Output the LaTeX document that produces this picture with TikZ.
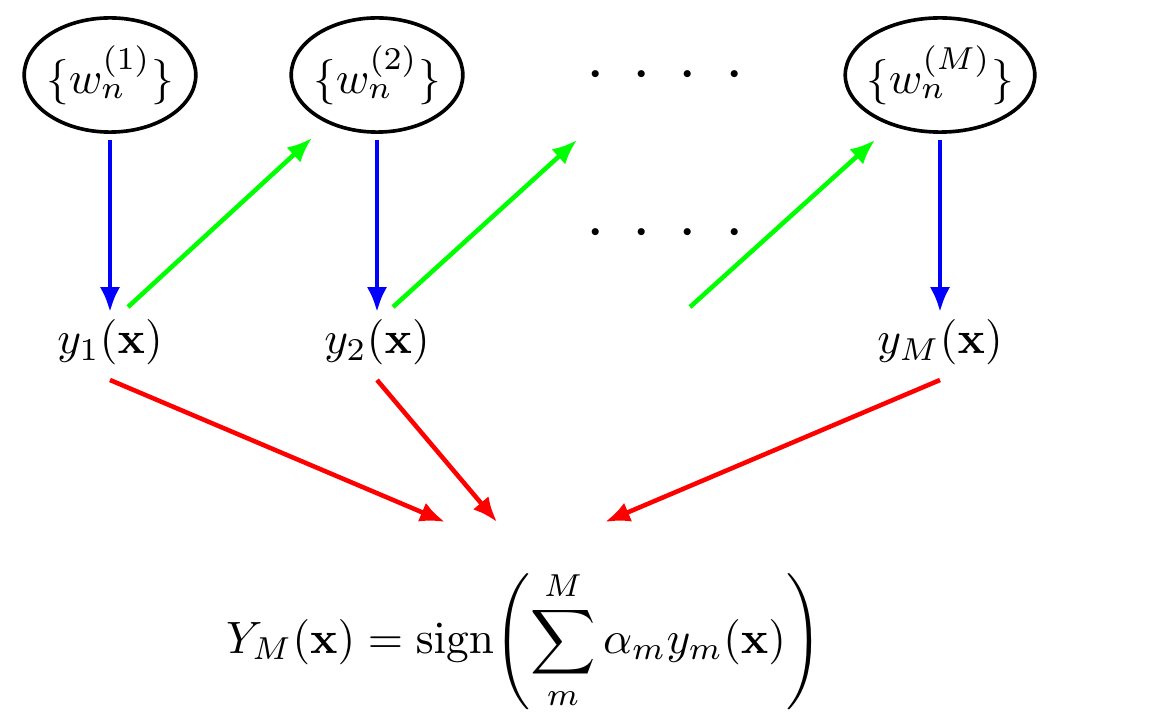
\documentclass[tikz,border=0pt]{standalone}
\usepackage{amsmath}
\usepackage{amssymb}
\usetikzlibrary{shapes.geometric, arrows.meta, calc}

\tikzset{
  wset/.style={ellipse, draw, thick, minimum width=1.33cm, minimum height=0.885cm, inner xsep=-1.5pt, inner ysep=0pt},
  ylabel/.style={inner sep=0pt},
  blueArr/.style={->, line width=1pt, blue},
  greenArr/.style={->, line width=1pt, green},
  redArr/.style={->, line width=1pt, red}
}
\newcommand{\rowdots}{${\boldsymbol{\cdot}}\hspace{7pt}{\boldsymbol{\cdot}}\hspace{7pt}{\boldsymbol{\cdot}}\hspace{7pt}{\boldsymbol{\cdot}}$}

\begin{document}
\begin{tikzpicture}[x=0.775cm, y=0.775cm, >={Latex[length=5.5pt,width=4.5pt]}]
            \useasboundingbox (0,0) rectangle (11.53,7.27);

            % Weight sets
            \node[wset] (w1) at (1.10,6.52) {$\{w_n^{(1)}\}$};
            \node[wset] (w2) at (3.77,6.52) {$\{w_n^{(2)}\}$};
            \node[wset] (wM) at (9.40,6.52) {$\{w_n^{(M)}\}$};

            % Dots
            \node (dotsA) at (6.65,6.52) {\rowdots};
            \node (dotsB) at (6.65,4.94) {\rowdots};

            % Base classifiers
            \node[ylabel] (y1) at (1.10,3.845) {$y_1(\mathbf{x})$};
            \node[ylabel] (y2) at (3.77,3.845) {$y_2(\mathbf{x})$};
            \node[ylabel] (yM) at (9.40,3.845) {$y_M(\mathbf{x})$};

            % Combined classifier
            \node (YM) at (5.24,0.87) {$\displaystyle Y_M(\mathbf{x})=\mathrm{sign}{\left(\sum_m^M \alpha_m y_m(\mathbf{x})\right)}$};

            % Weights to classifiers
            \draw[blueArr] ($(w1)+(0,-0.65)$) -- ($(y1)+(0,0.305)$);
            \draw[blueArr] ($(w2)+(0,-0.65)$) -- ($(y2)+(0,0.305)$);
            \draw[blueArr] ($(wM)+(0,-0.65)$) -- ($(yM)+(0,0.305)$);

            % Classifiers to next weights
            \draw[greenArr] ($(y1)+(0.18,0.355)$) -- ($(w2)+(-0.65,-0.63)$);
            \draw[greenArr] ($(y2)+(0.16,0.355)$) -- ($(dotsA)+(-0.88,-0.65)$);
            \draw[greenArr] ($(dotsB)+(0.25,-0.74)$) -- ($(wM)+(-0.65,-0.65)$);

            % Classifiers to combination
            \draw[redArr] ($(y1)+(0,-0.375)$) -- ($(YM)+(-0.79,1.18)$);
            \draw[redArr] ($(y2)+(0,-0.375)$) -- ($(YM)+(-0.27,1.18)$);
            \draw[redArr] ($(yM)+(0,-0.375)$) -- ($(YM)+(0.81,1.18)$);
        \end{tikzpicture}
\end{document}
